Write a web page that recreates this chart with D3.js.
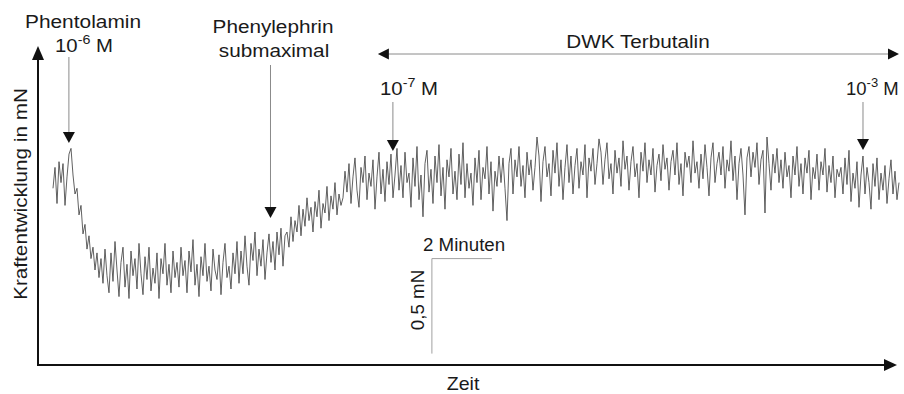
<!DOCTYPE html>
<html>
<head>
<meta charset="utf-8">
<script src="https://cdn.jsdelivr.net/npm/d3@7"></script>
<style>
  html, body { margin: 0; padding: 0; background: #fff; }
  svg { display: block; }
  text { font-family: "Liberation Sans", Arial, sans-serif; fill: #1a1a1a; }
</style>
</head>
<body>
<svg id="chart" width="904" height="394"></svg>
<script>
// Isometric force recording of a vascular ring (force in µN, sampled every 4 s)
const startTime = 0.5;          // min, first sample
const sampleStep = 1 / 15;      // min between samples

// Resting tone before and at Phentolamin
const baselineForce = [930, 1040, 850, 1070, 960, 1060, 840, 990, 1110, 1140];
// Relaxation after Phentolamin 10^-6 M
const phentolaminDrop = [1000, 900, 930, 790, 840, 690, 740, 610, 680, 560, 620, 500, 590, 460];
// Relaxed plateau
const plateauForce = [
  560, 430, 610, 470, 380, 590, 440, 650, 500, 360,
  540, 620, 410, 530, 350, 600, 470, 560, 400, 640,
  480, 370, 570, 450, 620, 390, 510, 430, 590, 350,
  560, 480, 640, 420, 530, 380, 600, 460, 540, 410,
  620, 470, 550, 380, 600, 490, 660, 420, 530, 360,
  570, 470, 640, 440, 520, 390, 610, 500, 450, 580,
  370, 540, 640, 460, 520, 400, 590, 480, 650, 430,
  600, 480, 680, 520, 420, 640, 550, 700, 470, 610,
  520, 660, 450, 590, 690,
  540, 650, 500, 700, 580, 720, 520, 680
];
// Contraction after submaximal Phenylephrin
const phenylephrinRise = [
  700, 620, 780, 650, 760, 700, 840, 680, 820, 730,
  880, 760, 830, 700, 860, 780, 920, 720, 850, 800,
  940, 760, 890, 820, 960, 790, 900, 840
];
// Sustained tone during the Terbutalin dose–response curve
const terbutalinForce = [
  880, 1020, 910, 1060, 850, 990, 1090, 920, 830, 1040,
  960, 1100, 870, 1010, 940, 1080, 820, 990, 1120, 900,
  1030, 860, 1070, 950, 1110, 880, 1000, 1140, 920,
  1050, 880, 1120, 960, 1010, 830, 1090, 940, 1150, 870,
  1000, 780, 1060, 1130, 910, 1030, 850, 1100, 960, 1160,
  890, 1040, 820, 1080, 990, 1140, 900, 1020, 870, 1110,
  950, 1170, 880, 1060, 930, 1010, 840, 1090, 960, 1130,
  870, 1040, 980, 1150, 900, 1070, 810, 1020, 940, 1100,
  960, 1090, 930, 760, 1060, 1140, 900, 1080, 990, 1150,
  940, 1050, 880, 1120, 1000, 1080, 920, 1040, 1200, 1100,
  860, 1070, 1150, 990, 1060, 890, 1130, 1010, 1170, 940,
  1080, 870, 1040, 1160, 960, 1100, 900, 1050, 1140, 930,
  1070, 1000, 1160, 880, 1090, 1020, 1140, 950, 1060, 1190,
  1120, 950, 1080, 1170, 980, 1060, 900, 1130, 1010, 1090,
  940, 1180, 1030, 1100, 920, 1070, 1150, 990, 1060, 880,
  1120, 1020, 1170, 960, 1080, 1000, 1140, 910, 1050, 1110,
  970, 1160, 1030, 1090, 920, 1070, 1130, 1000, 1170, 950,
  1060, 890, 1120, 1040, 1100, 960, 1180, 1010, 1070, 930,
  1110, 980, 1160, 1040, 890, 1090, 1170, 960, 1060, 1120,
  1000, 1150, 930, 1080, 1020, 1180, 970, 1100, 870, 1060,
  1140, 1000, 790, 1090, 1150, 990, 1120, 1040, 1170, 950,
  1080, 1130, 800, 1200, 1060, 920, 1110, 1010, 1140, 960,
  1080, 930, 1120, 990, 1050, 880, 1100, 1000, 1150, 940,
  1060, 900, 1090, 1010, 1130, 870, 1040, 980, 1110, 920,
  1070, 1000, 1140, 910, 1050, 960, 1100, 880, 1030, 990,
  1040, 900, 1090, 950, 1130, 860, 1010, 930, 1070, 830,
  1000, 1100, 900, 1040, 960, 820, 1060, 940, 1090, 870,
  1010, 920, 1050, 850, 980, 1080, 900, 1020, 870, 960
];

// Drug additions (min) and force level the marker points at (µN)
const eventTimes = [1.03, 7.75, 11.83, 27.5];
const eventTipForce = [1168, 774, 1126, 1132];
const terbutalinSpan = [11.33, 28.7];      // min
const scaleBarTime = [13.13, 15.13];       // 2 min
const scaleBarForce = [60, 560];           // 0.5 mN

const svg = d3.select("#chart");
const x = d3.scaleLinear().domain([0, 28.567]).range([38, 895]);
const y = d3.scaleLinear().domain([0, 1000]).range([365, 175]);

const force = [].concat(baselineForce, phentolaminDrop, plateauForce, phenylephrinRise, terbutalinForce);
const samples = force.map((v, i) => ({ t: startTime + i * sampleStep, v }));

// Recording trace
svg.append("path")
  .datum(samples)
  .attr("fill", "none")
  .attr("stroke", "#454545")
  .attr("stroke-width", 0.85)
  .attr("stroke-linejoin", "round")
  .attr("d", d3.line().x(d => x(d.t)).y(d => y(d.v)));

// Slightly wide lettering used throughout the figure
function label(px, py, str, opts = {}) {
  const size = opts.size || 18.5;
  const stretch = opts.stretch || 1.1;
  const rot = opts.rotate ? " rotate(-90)" : "";
  const g = svg.append("g").attr("transform", `translate(${px},${py})${rot} scale(${stretch},1)`);
  const t = g.append("text").attr("font-size", size).attr("text-anchor", opts.anchor || "start");
  if (opts.exponent) {
    t.append("tspan").text(str);
    t.append("tspan").attr("font-size", 13).attr("dy", -8).text(opts.exponent);
    t.append("tspan").attr("dy", 8).text(" M");
  } else {
    t.text(str);
  }
  return t;
}

// Axes with arrow heads
const axisColor = "#111";
svg.append("line").attr("x1", x(0)).attr("x2", 884).attr("y1", y(0)).attr("y2", y(0))
  .attr("stroke", axisColor).attr("stroke-width", 2);
svg.append("path").attr("d", `M884,${y(0) - 6}L897,${y(0)}L884,${y(0) + 6}Z`).attr("fill", axisColor);
svg.append("line").attr("x1", x(0)).attr("x2", x(0)).attr("y1", y(0) + 1).attr("y2", 58)
  .attr("stroke", axisColor).attr("stroke-width", 2);
svg.append("path").attr("d", `M${x(0) - 6},60L${x(0)},46L${x(0) + 6},60Z`).attr("fill", axisColor);

label(463, 390, "Zeit", { anchor: "middle", stretch: 1.06 });
label(27, 194, "Kraftentwicklung in mN", { anchor: "middle", rotate: true, stretch: 1.12 });

// Event markers: grey stem with a black arrow head
const stemColor = "#8a8a8a";
const stemTops = [57, 65, 102, 102];
eventTimes.forEach((t, i) => {
  const cx = x(t), tip = y(eventTipForce[i]);
  svg.append("line").attr("x1", cx).attr("x2", cx).attr("y1", stemTops[i]).attr("y2", tip - 10)
    .attr("stroke", stemColor).attr("stroke-width", 1);
  svg.append("path").attr("d", `M${cx - 6},${tip - 11}L${cx + 6},${tip - 11}L${cx},${tip}Z`)
    .attr("fill", "#111");
});

label(83, 28, "Phentolamin", { anchor: "middle", stretch: 1.13 });
label(55, 52, "10", { exponent: "-6" });

label(273, 33, "Phenylephrin", { anchor: "middle", stretch: 1.12 });
label(274, 57, "submaximal", { anchor: "middle", stretch: 1.12 });

label(380, 95, "10", { exponent: "-7" });
label(846, 95, "10", { exponent: "-3", stretch: 1.0 });

// Terbutalin cumulative dose–response span
const spanY = 54;
const sx0 = x(terbutalinSpan[0]), sx1 = x(terbutalinSpan[1]);
svg.append("line").attr("x1", sx0 + 9).attr("x2", sx1 - 9).attr("y1", spanY).attr("y2", spanY)
  .attr("stroke", stemColor).attr("stroke-width", 1);
svg.append("path").attr("d", `M${sx0},${spanY}L${sx0 + 11},${spanY - 5.5}L${sx0 + 11},${spanY + 5.5}Z`).attr("fill", "#111");
svg.append("path").attr("d", `M${sx1},${spanY}L${sx1 - 11},${spanY - 5.5}L${sx1 - 11},${spanY + 5.5}Z`).attr("fill", "#111");
label(638, 48, "DWK Terbutalin", { anchor: "middle", stretch: 1.12 });

// Scale bar
const barColor = "#a0a0a0";
svg.append("path")
  .attr("d", `M${x(scaleBarTime[1])},${y(scaleBarForce[1])}L${x(scaleBarTime[0])},${y(scaleBarForce[1])}L${x(scaleBarTime[0])},${y(scaleBarForce[0])}`)
  .attr("fill", "none").attr("stroke", barColor).attr("stroke-width", 1);
label(423, 251, "2 Minuten", { size: 18, stretch: 1.04 });
label(424, 300, "0,5 mN", { anchor: "middle", rotate: true, size: 18, stretch: 1.04 });
</script>
</body>
</html>
